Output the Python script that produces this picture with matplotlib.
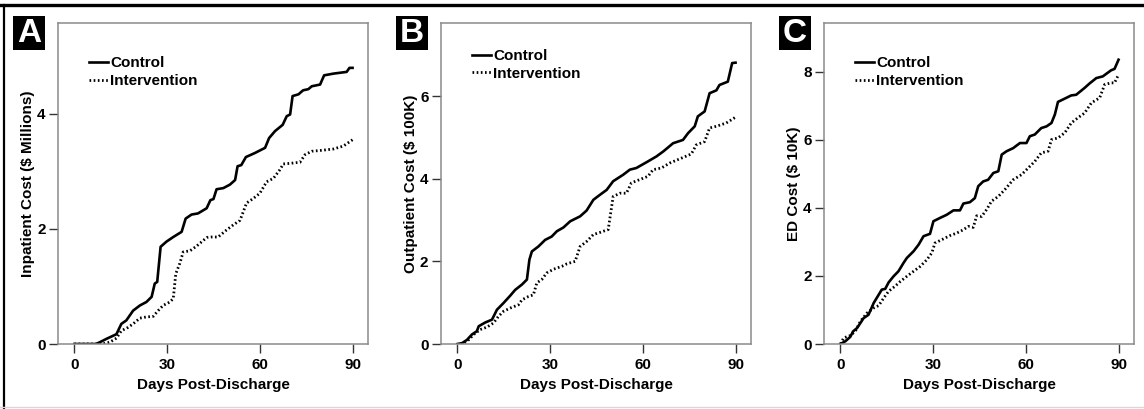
import matplotlib
matplotlib.use("Agg")
import matplotlib.pyplot as plt
from matplotlib.patches import Rectangle
from matplotlib.lines import Line2D

plt.rcParams["font.family"] = ["Liberation Sans", "DejaVu Sans"]
plt.rcParams["font.weight"] = "bold"

# --- panel A: inpatient cost ($ millions) ---
a_ctrl_days = [0, 7, 8.2, 10.4, 13.6, 15.2, 16.8, 19, 21.2, 23.3, 25, 26, 26.8,
               27.9, 29.8, 32, 34.7, 36, 37.9, 40, 42.8, 44, 45, 46, 48.2,
               50.3, 52, 52.8, 54, 55.5, 58.4, 61.7, 63, 64.9, 67.4, 68.7,
               69.8, 70.6, 72.5, 74, 75.7, 76.8, 79.5, 80.8, 83.8, 88.1, 89, 90]
a_ctrl_cost = [0, 0, 0.03, 0.09, 0.17, 0.35, 0.41, 0.58, 0.67, 0.73, 0.82, 1.05,
               1.08, 1.69, 1.78, 1.86, 1.95, 2.18, 2.25, 2.27, 2.36, 2.50, 2.52,
               2.69, 2.71, 2.77, 2.85, 3.09, 3.11, 3.25, 3.32, 3.41, 3.58, 3.70,
               3.81, 3.96, 3.99, 4.31, 4.34, 4.41, 4.43, 4.48, 4.51, 4.67, 4.70,
               4.73, 4.80, 4.80]
a_int_days = [0, 9, 11.4, 13.6, 15.2, 17.4, 19, 21.2, 23.3, 25.5, 27.1, 28.7,
              30.9, 32, 32.8, 34.1, 35.2, 37.4, 39.5, 40.6, 42.8, 44.4, 46.5,
              49.2, 51.4, 53.6, 55.7, 57.9, 60, 62.2, 64.4, 66.5, 67.6, 69.8,
              73, 74.6, 76.8, 80.6, 83.8, 87, 90]
a_int_cost = [0, 0, 0.03, 0.10, 0.23, 0.29, 0.35, 0.45, 0.47, 0.48, 0.58, 0.67,
              0.73, 0.79, 1.22, 1.40, 1.60, 1.62, 1.70, 1.75, 1.85, 1.86, 1.86,
              1.98, 2.07, 2.15, 2.45, 2.53, 2.62, 2.82, 2.88, 3.03, 3.13, 3.14,
              3.16, 3.29, 3.35, 3.37, 3.39, 3.44, 3.55]

# --- panel B: outpatient cost ($ 100K) ---
b_ctrl_days = [0, 1.5, 3.1, 4.7, 6.3, 6.9, 9, 11.2, 12.8, 14.9, 17.1, 18.7,
               20.9, 22.5, 23.3, 24.1, 26.2, 28.4, 30.5, 32.2, 34.3, 36.5, 39.7,
               41.8, 44, 46.1, 48.3, 50.4, 53.7, 55.8, 57.9, 61.2, 64.4, 66.6,
               69.8, 73, 74.6, 76.8, 77.8, 80, 81.6, 83.8, 84.8, 87.5, 88.9, 90]
b_ctrl_cost = [0, 0.02, 0.10, 0.23, 0.31, 0.43, 0.52, 0.59, 0.83, 0.99, 1.17,
               1.31, 1.44, 1.56, 2.04, 2.24, 2.36, 2.52, 2.60, 2.73, 2.82, 2.97,
               3.09, 3.23, 3.49, 3.61, 3.73, 3.94, 4.10, 4.22, 4.26, 4.40, 4.54,
               4.66, 4.86, 4.94, 5.10, 5.27, 5.51, 5.63, 6.07, 6.14, 6.27, 6.35,
               6.80, 6.81]
b_int_days = [1, 3.1, 5.3, 7.4, 9.6, 11.7, 13.3, 14.9, 17.1, 19.8, 20.9, 23,
              24.6, 25.7, 27.3, 28.9, 31.1, 33.8, 35.4, 38.1, 39.7, 41.8, 44,
              46.1, 48.8, 50.4, 52.6, 54.7, 56.3, 59, 61.7, 63.3, 66, 68.7,
              71.9, 75.7, 77.3, 80, 81.6, 83.8, 87, 90]
b_int_cost = [0, 0.06, 0.23, 0.35, 0.41, 0.51, 0.67, 0.79, 0.87, 0.95, 1.07,
              1.15, 1.19, 1.48, 1.56, 1.72, 1.81, 1.88, 1.94, 2.00, 2.36, 2.48,
              2.65, 2.70, 2.77, 3.57, 3.65, 3.65, 3.90, 3.98, 4.06, 4.22, 4.26,
              4.38, 4.48, 4.60, 4.82, 4.90, 5.23, 5.27, 5.35, 5.49]

# --- panel C: ED cost ($ 10K) ---
c_ctrl_days = [0, 1.6, 3.2, 4.1, 5.4, 6.5, 7.5, 9.1, 10.8, 12.4, 13.4, 14.5,
               15.6, 17.2, 18.8, 20.4, 21.5, 23.7, 25.3, 26.9, 29, 30.1, 32.3,
               34.4, 36.6, 38.7, 39.8, 41.9, 43.5, 44.6, 46.2, 47.8, 49.5, 51.1,
               52.2, 53.8, 55.9, 58.1, 60.2, 61.3, 62.9, 65, 66.7, 68.3, 69.4,
               70.4, 72, 74.7, 76.3, 79, 80.6, 82.8, 84.9, 87.6, 88.7, 90]
c_ctrl_cost = [0, 0.08, 0.21, 0.37, 0.47, 0.62, 0.76, 0.86, 1.21, 1.45, 1.60,
               1.62, 1.81, 1.99, 2.14, 2.38, 2.53, 2.73, 2.92, 3.17, 3.24, 3.61,
               3.71, 3.80, 3.93, 3.93, 4.13, 4.17, 4.29, 4.64, 4.78, 4.83, 5.03,
               5.08, 5.57, 5.67, 5.76, 5.91, 5.91, 6.11, 6.16, 6.35, 6.40, 6.50,
               6.75, 7.12, 7.19, 7.31, 7.33, 7.53, 7.66, 7.82, 7.87, 8.05, 8.09,
               8.36]
c_int_days = [0, 1.1, 3.2, 4.8, 6.5, 8.6, 10.8, 12.4, 14, 15.6, 17.7, 19.4,
              21.5, 23.7, 25.8, 28, 29.6, 30.6, 33.3, 35.5, 37.6, 39.8, 41.4,
              43, 44.1, 45.7, 47.3, 48.9, 51.1, 53.2, 55.9, 58.6, 60.8, 62.9,
              65, 67.2, 68.3, 70.4, 72.6, 74.7, 76.8, 79, 81.2, 83.9, 85.5,
              87.6, 88.7, 90]
c_int_cost = [0, 0.18, 0.25, 0.37, 0.67, 0.91, 1.06, 1.13, 1.35, 1.55, 1.70,
              1.84, 1.99, 2.14, 2.28, 2.48, 2.68, 2.97, 3.09, 3.19, 3.26, 3.36,
              3.46, 3.43, 3.77, 3.75, 3.95, 4.20, 4.34, 4.54, 4.83, 4.98, 5.18,
              5.37, 5.62, 5.67, 6.01, 6.06, 6.21, 6.50, 6.65, 6.79, 7.09, 7.24,
              7.63, 7.68, 7.68, 7.92]

x_ticks = [0, 30, 60, 90]
panels = [
    ("A", "Inpatient Cost ($ Millions)", a_ctrl_days, a_ctrl_cost,
     a_int_days, a_int_cost, [0, 2, 4], 5.58, 58, 0.897),
    ("B", "Outpatient Cost ($ 100K)", b_ctrl_days, b_ctrl_cost,
     b_int_days, b_int_cost, [0, 2, 4, 6], 7.77, 441, 0.919),
    ("C", "ED Cost ($ 10K)", c_ctrl_days, c_ctrl_cost,
     c_int_days, c_int_cost, [0, 2, 4, 6, 8], 9.44, 824, 0.897),
]

W, H = 1144, 409
fig = plt.figure(figsize=(W / 100, H / 100), dpi=100)

# frame of the original figure
fig.add_artist(Line2D([0, 1], [1 - 5.3 / H, 1 - 5.3 / H], color="black",
                      lw=2.4, transform=fig.transFigure))
fig.add_artist(Line2D([4.3 / W, 4.3 / W], [1 - 5.3 / H, 0], color="black",
                      lw=1.6, transform=fig.transFigure))
fig.add_artist(Line2D([0, 1], [1 - 406.5 / H, 1 - 406.5 / H], color="#d8d8d8",
                      lw=1.0, transform=fig.transFigure))

for (letter, ylab, cx, cy, ix, iy, yt, ytop, left_px, leg_y) in panels:
    ax = fig.add_axes([left_px / W, (H - 344) / H, 310 / W, 321 / H])
    ax.plot(cx, cy, color="black", lw=1.9, solid_joinstyle="round",
            label="Control")
    ax.plot(ix, iy, color="black", lw=2.0, linestyle=(0, (0.6, 0.9)),
            label="Intervention")
    ax.set_xlim(-5.3, 95)
    ax.set_ylim(0, ytop)
    ax.set_xticks(x_ticks)
    ax.set_yticks(yt)
    for s in ax.spines.values():
        s.set_color("#8a8a8a")
        s.set_linewidth(1.1)
    ax.tick_params(direction="out", length=6.5, width=1.0, color="#333333",
                   labelsize=11, pad=2.5)
    ax.tick_params(axis="x", pad=3.5)
    for lab in ax.get_xticklabels() + ax.get_yticklabels():
        lab.set_fontweight("bold")
    ax.set_xlabel("Days Post-Discharge", fontsize=11, fontweight="bold")
    ax.set_ylabel(ylab, fontsize=11, fontweight="bold")
    ax.xaxis.set_label_coords(0.5, -0.105)
    ax.yaxis.set_label_coords(-0.075, 0.5)
    leg = ax.legend(loc="upper left", bbox_to_anchor=(0.1, leg_y),
                    frameon=False, handlelength=1.25, handletextpad=0.15,
                    borderpad=0, borderaxespad=0, labelspacing=0.25,
                    prop={"size": 11, "weight": "bold"})

    # black panel letter box
    bx = left_px - 45
    fig.add_artist(Rectangle((bx / W, 1 - 50 / H), 31.5 / W, 34 / H,
                             transform=fig.transFigure, facecolor="black",
                             edgecolor="none"))
    fig.text((bx + 15.75) / W, 1 - 33.5 / H, letter, color="white",
             fontsize=24, fontweight="bold", ha="center", va="center")

fig.savefig("out.png", dpi=100, facecolor="white")
